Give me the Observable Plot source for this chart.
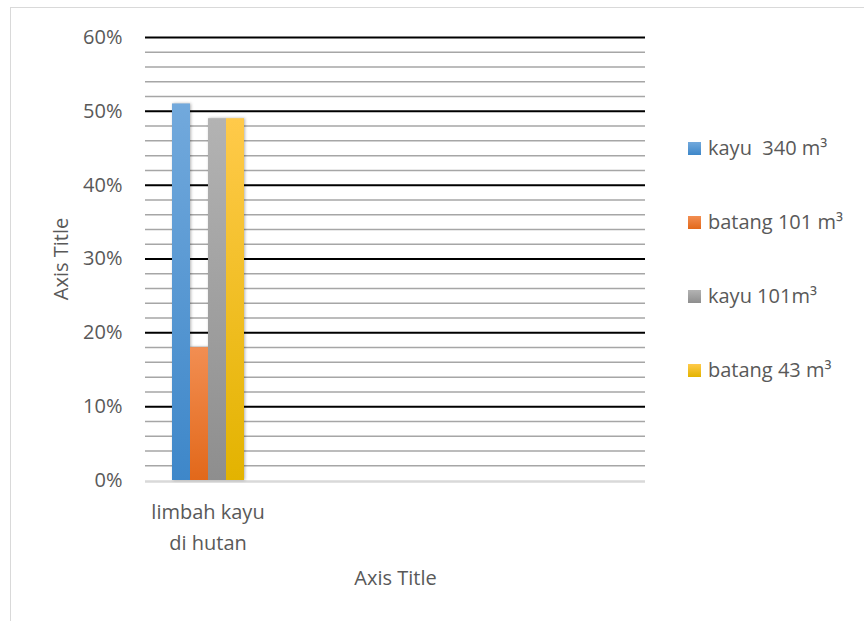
<!DOCTYPE html>
<html>
<head>
<meta charset="utf-8">
<script src="https://cdn.jsdelivr.net/npm/d3@7"></script>
<script src="https://cdn.jsdelivr.net/npm/@observablehq/plot@0.6"></script>
<style>
  html, body { margin: 0; padding: 0; background: #fff; }
  #wrap { position: relative; width: 864px; height: 621px; overflow: hidden; background: #fff; font-family: "Open Sans", sans-serif; }
  #border { position: absolute; left: 10px; top: 7px; width: 900px; height: 700px; border: 1px solid #d9d9d9; box-sizing: border-box; }
  #chart { position: absolute; left: 0; top: 0; }
  #legend { position: absolute; left: 688px; top: 0; }
  .item { position: absolute; left: 0; white-space: pre; font-size: 20px; color: #595959; line-height: 20px; }
  .sw { position: absolute; left: 0; width: 13px; height: 13px; }
  .lbl { position: absolute; left: 20px; }
</style>
</head>
<body>
<div id="wrap">
  <div id="border"></div>
  <div id="chart"></div>
  <div id="legend"></div>
</div>
<script>
// ---- data ----
const categories = ["limbah kayu di hutan", " ", "  ", "   "];
const series = ["kayu  340 m³", "batang 101 m³", "kayu 101m³", "batang 43 m³"];
const values = [0.51, 0.18, 0.49, 0.49];
const majorTicks = [0, 0.1, 0.2, 0.3, 0.4, 0.5, 0.6];
const minorTicks = [0.02, 0.04, 0.06, 0.08, 0.12, 0.14, 0.16, 0.18, 0.22, 0.24, 0.26, 0.28,
                    0.32, 0.34, 0.36, 0.38, 0.42, 0.44, 0.46, 0.48, 0.52, 0.54, 0.56, 0.58];
const gradTop = ["#72a9dc", "#f28e52", "#b3b3b3", "#ffca4a"];
const gradBottom = ["#3e87c9", "#e2681a", "#8e8e8e", "#e3b300"];

const data = series.map((s, i) => ({category: categories[0], series: s, value: values[i]}));
const cross = (ticks) => categories.flatMap(c => ticks.map(t => ({category: c, tick: t})));

const chart = Plot.plot({
  width: 864,
  height: 621,
  marginLeft: 145,
  marginRight: 219,
  marginTop: 37,
  marginBottom: 141,
  style: {fontFamily: "Open Sans", fontSize: "20px", color: "#595959", background: "transparent"},
  fx: {domain: categories, padding: 0},
  x: {domain: series, axis: null, paddingInner: 0, paddingOuter: 1.42},
  y: {domain: [0, 0.6]},
  color: {domain: series, range: series.map((_, i) => `url(#grad${i})`)},
  marks: [
    Plot.ruleY(cross(minorTicks), {fx: "category", y: "tick", stroke: "#a6a6a6", strokeWidth: 1.5}),
    Plot.ruleY(cross(majorTicks.filter(d => d > 0)), {fx: "category", y: "tick", stroke: "#000", strokeWidth: 2}),
    Plot.ruleY(cross([0]), {fx: "category", y: "tick", stroke: "#d9d9d9", strokeWidth: 2.5, dy: 1}),
    Plot.barY(data, {fx: "category", x: "series", y: "value", fill: "series", className: "bars"}),
    Plot.axisY(majorTicks, {
      tickFormat: d3.format(".0%"), tickSize: 0, tickPadding: 23,
      label: "Axis Title", labelAnchor: "center", labelArrow: "none", labelOffset: 92
    }),
    Plot.axisFx({
      anchor: "bottom",
      tickSize: 0, tickPadding: 16, lineWidth: 6.3, lineHeight: 1.55,
      label: "Axis Title", labelAnchor: "center", labelArrow: "none", labelOffset: 104
    })
  ]
});

// gradients for bars
const defs = d3.select(chart).insert("defs", ":first-child");
series.forEach((_, i) => {
  const g = defs.append("linearGradient").attr("id", `grad${i}`)
    .attr("x1", 0).attr("y1", 0).attr("x2", 0).attr("y2", 1);
  g.append("stop").attr("offset", "0%").attr("stop-color", gradTop[i]);
  g.append("stop").attr("offset", "100%").attr("stop-color", gradBottom[i]);
});
d3.select(chart).selectAll(".bars").style("filter", "drop-shadow(1px 0px 1.5px rgba(0,0,0,0.3))");

document.getElementById("chart").appendChild(chart);

// legend
const legend = document.getElementById("legend");
series.forEach((s, i) => {
  const item = document.createElement("div");
  item.className = "item";
  item.style.top = (138 + i * 74) + "px";
  const sw = document.createElement("div");
  sw.className = "sw";
  sw.style.top = "4px";
  sw.style.background = `linear-gradient(${gradTop[i]}, ${gradBottom[i]})`;
  const lbl = document.createElement("div");
  lbl.className = "lbl";
  lbl.textContent = s;
  item.appendChild(sw);
  item.appendChild(lbl);
  legend.appendChild(item);
});
</script>
</body>
</html>
